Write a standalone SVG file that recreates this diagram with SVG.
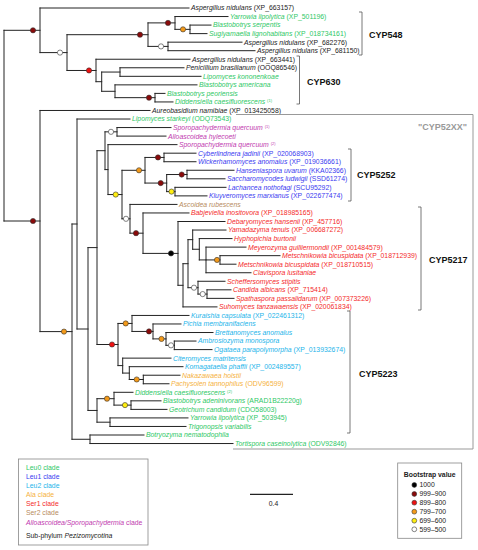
<svg xmlns="http://www.w3.org/2000/svg" width="478" height="550" viewBox="0 0 478 550">
<style>
text{font-family:"Liberation Sans",Arial,Helvetica,sans-serif;font-size:6.85px}
.i{font-style:italic}
.k{fill:#222}
.g{fill:#2ec866}
.b{fill:#3a3af0}
.c{fill:#1cb4ea}
.o{fill:#f5b13d}
.r{fill:#f42a2a}
.n{fill:#b78b5e}
.m{fill:#c13aaf}
.sup{font-size:4px}
.lab{font-size:9px;font-weight:bold;fill:#111}
.tree{fill:none;stroke:#222;stroke-width:1;stroke-linecap:square}
.br{fill:none;stroke:#555;stroke-width:0.8}
.bs{stroke:#333;stroke-width:0.6}
.dr{fill:#8b0a0a}.rd{fill:#ee1111}.or{fill:#f39a1a}.ye{fill:#ffee11}.wh{fill:#fff}.bk{fill:#000}
</style>
<rect width="478" height="550" fill="#fff"/>
<g id="connectors">
<path class="tree" d="M4,30.3V221M4,30.3H40M40,8V52.6M40,8H189M40,52.6H67M67,34.7V70.47M67,34.7H148M148,22.9V46.4M148,22.9H175M175,16.54V29.35M175,16.54H228M175,29.35H190M190,25.08V33.62M190,25.08H211M190,33.62H207M148,46.4H168M168,42.16V50.7M168,42.16H242M168,50.7H255M67,70.47H96M96,59.24V81.7M96,59.24H190M96,81.7H101.7M101.7,72.05V91.3M101.7,72.05H120M120,67.78V76.32M120,67.78H184M120,76.32H201M101.7,91.3H115M115,84.86V97.67M115,84.86H197M115,97.67H155M155,93.4V101.94M155,93.4H165M155,101.94H173
M4,221H40M40,110.48V331.6M40,110.48H150M40,331.6H72M72,224V439.27M72,224H77M77,119.02V329M77,119.02H130M77,329H88M88,247.6V410.45M88,247.6H97M97,150.7V344.5M97,150.7H105M105,131.83V169.6M105,131.83H117M117,127.56V136.1M117,127.56H171M117,136.1H166M105,169.6H108M108,144.64V194.55M108,144.64H177M108,194.55H122M122,170.3V218.8M122,170.3H145M145,157.45V183.07M145,157.45H164M164,153.18V161.72M164,153.18H196M164,161.72H196M145,183.07H166.7M166.7,174.53V191.61M166.7,174.53H187M187,170.26V178.8M187,170.26H234M187,178.8H225M166.7,191.61H175M175,187.34V195.88M175,187.34H226M175,195.88H207
M122,218.8H130M130,204.42V233.18M130,204.42H177M130,233.18H143M143,212.96V253.4M143,212.96H189M143,253.4H178M178,221.5V285.3M178,221.5H225M178,285.3H183M183,263.7V306.9M183,306.9H217M183,263.7H188M188,239.65V287.7M188,239.65H192.7M192.7,230.04V249.26M192.7,230.04H226M192.7,249.26H199.3M199.3,238.58V259.93M199.3,238.58H232M199.3,259.93H206M206,247.12V272.74M206,247.12H246M206,259.93H220M220,255.66V264.2M220,255.66H280M220,264.2H236M206,272.74H251M188,287.7H198M198,281.28V294.09M198,281.28H225M198,294.09H207M207,289.82V298.36M207,289.82H231M207,298.36H234
M97,344.5H118M118,323.44V365.6M118,323.44H132M132,315.44V331.44M132,315.44H189M132,331.44H153M153,323.98V338.9M153,323.98H181M153,338.9H166M166,332.52V345.33M166,332.52H213M166,345.33H174.3M174.3,341.06V349.6M174.3,341.06H196M174.3,349.6H212M118,365.6H122.7M122.7,358.14V373.09M122.7,358.14H171M122.7,373.09H129.3M129.3,366.68V379.49M129.3,366.68H183M129.3,379.49H143.3M143.3,375.22V383.76M143.3,375.22H180M143.3,383.76H169
M88,410.45H97M97,398.7V422.19M97,398.7H114M114,392.3V405.11M114,392.3H133M114,405.11H131M131,400.84V409.38M131,400.84H161M131,409.38H167M97,422.19H110M110,417.92V426.46M110,417.92H188M110,426.46H186M72,439.27H90M90,435V443.54M90,435H144M90,443.54H233"/>
</g>
<g id="bootstrap-nodes" class="bs">
<circle class="dr" cx="33" cy="30.3" r="2.6"/><circle class="wh" cx="60" cy="52.6" r="2.6"/><circle class="dr" cx="140" cy="34.7" r="2.6"/><circle class="dr" cx="168" cy="22.9" r="2.6"/><circle class="or" cx="183" cy="29.35" r="2.6"/><circle class="wh" cx="161" cy="46.4" r="2.6"/><circle class="rd" cx="89" cy="70.47" r="2.6"/><circle class="dr" cx="149" cy="97.67" r="2.6"/>
<circle class="dr" cx="33" cy="221" r="2.6"/><circle class="or" cx="64" cy="331.6" r="2.6"/><circle class="wh" cx="111" cy="131.83" r="2.6"/><circle class="ye" cx="115.7" cy="194.55" r="2.6"/><circle class="or" cx="139" cy="170.3" r="2.6"/><circle class="dr" cx="158" cy="157.45" r="2.6"/><circle class="dr" cx="160.7" cy="183.07" r="2.6"/><circle class="dr" cx="181.7" cy="174.53" r="2.6"/><circle class="ye" cx="171.5" cy="191.61" r="2.6"/><circle class="wh" cx="126" cy="218.8" r="2.6"/><circle class="dr" cx="136" cy="233.18" r="2.6"/><circle class="bk" cx="171" cy="253.4" r="2.6"/><circle class="or" cx="217" cy="259.93" r="2.6"/><circle class="wh" cx="194" cy="287.7" r="2.6"/><circle class="wh" cx="202.7" cy="294.09" r="2.6"/>
<circle class="rd" cx="112" cy="344.5" r="2.6"/><circle class="or" cx="125.7" cy="323.44" r="2.6"/><circle class="dr" cx="149" cy="331.44" r="2.6"/><circle class="or" cx="161.5" cy="338.9" r="2.6"/><circle class="wh" cx="171" cy="345.33" r="2.6"/><circle class="or" cx="136.7" cy="379.49" r="2.6"/><circle class="or" cx="107" cy="398.7" r="2.6"/><circle class="ye" cx="125" cy="405.11" r="2.6"/>
</g>
<g id="leaves">
<g id="leaf1"><text x="191" y="10.4" class="k"><tspan class="i">Aspergillus nidulans</tspan> (XP_663157)</text></g>
<g id="leaf2"><text x="230" y="18.94" class="g"><tspan class="i">Yarrowia lipolytica</tspan> (XP_501196)</text></g>
<g id="leaf3"><text x="213" y="27.48" class="g i">Blastobotrys serpentis</text></g>
<g id="leaf4"><text x="209" y="36.02" class="g"><tspan class="i">Sugiyamaella lignohabitans</tspan> (XP_018734161)</text></g>
<g id="leaf5"><text x="244" y="44.56" class="k"><tspan class="i">Aspergillus nidulans</tspan> (XP_682276)</text></g>
<g id="leaf6"><text x="257" y="53.1" class="k"><tspan class="i">Aspergillus nidulans</tspan> (XP_681150)</text></g>
<g id="leaf7"><text x="192" y="61.64" class="k"><tspan class="i">Aspergillus nidulans</tspan> (XP_663441)</text></g>
<g id="leaf8"><text x="186" y="70.18" class="k"><tspan class="i">Penicillium brasilianum</tspan> (OOQ86546)</text></g>
<g id="leaf9"><text x="203" y="78.72" class="g i">Lipomyces kononenkoae</text></g>
<g id="leaf10"><text x="199" y="87.26" class="g i">Blastobotrys americana</text></g>
<g id="leaf11"><text x="167" y="95.8" class="g i">Blastobotrys peoriensis</text></g>
<g id="leaf12"><text x="175" y="104.34" class="g"><tspan class="i">Diddensiella caesifluorescens</tspan> <tspan class="sup" dy="-2">(1)</tspan></text></g>
<g id="leaf13"><text x="152" y="112.88" class="k"><tspan class="i">Aureobasidium namibiae</tspan> (XP_013425058)</text></g>
<g id="leaf14"><text x="132" y="121.42" class="g"><tspan class="i">Lipomyces starkeyi</tspan> (ODQ73543)</text></g>
<g id="leaf15"><text x="173" y="129.96" class="m"><tspan class="i">Sporopachydermia quercuum</tspan> <tspan class="sup" dy="-2">(1)</tspan></text></g>
<g id="leaf16"><text x="168" y="138.5" class="m i">Alloascoidea hylecoeti</text></g>
<g id="leaf17"><text x="179" y="147.04" class="m"><tspan class="i">Sporopachydermia quercuum</tspan> <tspan class="sup" dy="-2">(2)</tspan></text></g>
<g id="leaf18"><text x="198" y="155.58" class="b"><tspan class="i">Cyberlindnera jadinii</tspan> (XP_020068903)</text></g>
<g id="leaf19"><text x="198" y="164.12" class="b"><tspan class="i">Wickerhamomyces anomalus</tspan> (XP_019036661)</text></g>
<g id="leaf20"><text x="236" y="172.66" class="b"><tspan class="i">Hanseniaspora uvarum</tspan> (KKA02366)</text></g>
<g id="leaf21"><text x="227" y="181.2" class="b"><tspan class="i">Saccharomycodes ludwigii</tspan> (SSD61274)</text></g>
<g id="leaf22"><text x="228" y="189.74" class="b"><tspan class="i">Lachancea nothofagi</tspan> (SCU95292)</text></g>
<g id="leaf23"><text x="209" y="198.28" class="b"><tspan class="i">Kluyveromyces marxianus</tspan> (XP_022677474)</text></g>
<g id="leaf24"><text x="179" y="206.82" class="n i">Ascoidea rubescens</text></g>
<g id="leaf25"><text x="191" y="215.36" class="r"><tspan class="i">Babjeviella inositovora</tspan> (XP_018985165)</text></g>
<g id="leaf26"><text x="227" y="223.9" class="r"><tspan class="i">Debaryomyces hansenii</tspan> (XP_457716)</text></g>
<g id="leaf27"><text x="228" y="232.44" class="r"><tspan class="i">Yamadazyma tenuis</tspan> (XP_006687272)</text></g>
<g id="leaf28"><text x="234" y="240.98" class="r i">Hyphopichia burtonii</text></g>
<g id="leaf29"><text x="248" y="249.52" class="r"><tspan class="i">Meyerozyma guilliermondii</tspan> (XP_001484579)</text></g>
<g id="leaf30"><text x="282" y="258.06" class="r"><tspan class="i">Metschnikowia bicuspidata</tspan> (XP_018712939)</text></g>
<g id="leaf31"><text x="238" y="266.6" class="r"><tspan class="i">Metschnikowia bicuspidata</tspan> (XP_018710515)</text></g>
<g id="leaf32"><text x="253" y="275.14" class="r i">Clavispora lusitaniae</text></g>
<g id="leaf33"><text x="227" y="283.68" class="r i">Scheffersomyces stipitis</text></g>
<g id="leaf34"><text x="233" y="292.22" class="r"><tspan class="i">Candida albicans</tspan> (XP_715414)</text></g>
<g id="leaf35"><text x="236" y="300.76" class="r"><tspan class="i">Spathaspora passalidarum</tspan> (XP_007373226)</text></g>
<g id="leaf36"><text x="219" y="309.3" class="r"><tspan class="i">Suhomyces tanzawaensis</tspan> (XP_020061834)</text></g>
<g id="leaf37"><text x="191" y="317.84" class="c"><tspan class="i">Kuraishia capsulata</tspan> (XP_022461312)</text></g>
<g id="leaf38"><text x="183" y="326.38" class="c i">Pichia membranifaciens</text></g>
<g id="leaf39"><text x="215" y="334.92" class="c i">Brettanomyces anomalus</text></g>
<g id="leaf40"><text x="198" y="343.46" class="c i">Ambrosiozyma monospora</text></g>
<g id="leaf41"><text x="214" y="352" class="c"><tspan class="i">Ogataea parapolymorpha</tspan> (XP_013932674)</text></g>
<g id="leaf42"><text x="173" y="360.54" class="c i">Citeromyces matritensis</text></g>
<g id="leaf43"><text x="185" y="369.08" class="c"><tspan class="i">Komagataella phaffii</tspan> (XP_002489557)</text></g>
<g id="leaf44"><text x="182" y="377.62" class="o i">Nakazawaea holstii</text></g>
<g id="leaf45"><text x="171" y="386.16" class="o"><tspan class="i">Pachysolen tannophilus</tspan> (ODV96599)</text></g>
<g id="leaf46"><text x="135" y="394.7" class="g"><tspan class="i">Diddensiella caesifluorescens</tspan> <tspan class="sup" dy="-2">(2)</tspan></text></g>
<g id="leaf47"><text x="163" y="403.24" class="g"><tspan class="i">Blastobotrys adeninivorans</tspan> (ARAD1B22220g)</text></g>
<g id="leaf48"><text x="169" y="411.78" class="g"><tspan class="i">Geotrichum candidum</tspan> (CDO58003)</text></g>
<g id="leaf49"><text x="190" y="420.32" class="g"><tspan class="i">Yarrowia lipolytica</tspan> (XP_503945)</text></g>
<g id="leaf50"><text x="188" y="428.86" class="g i">Trigonopsis variabilis</text></g>
<g id="leaf51"><text x="146" y="437.4" class="g i">Botryozyma nematodophila</text></g>
<g id="leaf52"><text x="235" y="445.94" class="g"><tspan class="i">Tortispora caseinolytica</tspan> (ODV92846)</text></g>
</g>
<g id="clades">
<path d="M236,114.5H473V449H233" fill="none" stroke="#999" stroke-width="1"/>
<text x="467" y="130" text-anchor="end" style="font-size:9px;font-weight:bold;fill:#999">"CYP52XX"</text>
<path class="br" d="M359,12H362V55H359"/><text class="lab" x="369" y="38.3">CYP548</text>
<path class="br" d="M296.5,56H299.5V104H296.5"/><text class="lab" x="307" y="85">CYP630</text>
<path class="br" d="M348,149H351V201H348"/><text class="lab" x="357" y="178.3">CYP5252</text>
<path class="br" d="M418,207H421V310H418"/><text class="lab" x="429" y="263.3">CYP5217</text>
<path class="br" d="M347,311H350V433H347"/><text class="lab" x="359" y="376.6">CYP5223</text>
</g>
<g id="legend-clades">
<rect x="18.5" y="459" width="129.5" height="86" fill="none" stroke="#888" stroke-width="0.8"/>
<text x="26" y="469.8" class="g">Leu0 clade</text>
<text x="26" y="478.6" class="b">Leu1 clade</text>
<text x="26" y="487.7" class="c">Leu2 clade</text>
<text x="26" y="496.7" class="o">Ala clade</text>
<text x="26" y="506.1" class="r">Ser1 clade</text>
<text x="26" y="515.1" class="n">Ser2 clade</text>
<text x="26" y="524.7" class="m"><tspan class="i">Alloascoidea/Sporopachydermia</tspan> clade</text>
<text x="26" y="537.7" class="k">Sub-phylum <tspan class="i">Pezizomycotina</tspan></text>
</g>
<g id="scale-bar">
<path d="M250,494.3H293" stroke="#222" stroke-width="1.2"/>
<text x="273.5" y="505.6" text-anchor="middle" class="k">0.4</text>
</g>
<g id="legend-bootstrap">
<rect x="397.7" y="463" width="64" height="75.3" fill="none" stroke="#888" stroke-width="0.8"/>
<text x="429.7" y="476.7" text-anchor="middle" style="font-weight:bold" class="k">Bootstrap value</text>
<g class="bs">
<circle class="bk" cx="414.3" cy="485" r="2.4"/><circle class="dr" cx="414.3" cy="494" r="2.4"/><circle class="rd" cx="414.3" cy="502.7" r="2.4"/><circle class="or" cx="414.3" cy="511.7" r="2.4"/><circle class="ye" cx="414.3" cy="520.7" r="2.4"/><circle class="wh" cx="414.3" cy="529.3" r="2.4"/>
</g>
<text x="419.5" y="487.4" class="k">1000</text>
<text x="419.5" y="496.4" class="k">999–900</text>
<text x="419.5" y="505.1" class="k">899–800</text>
<text x="419.5" y="514.1" class="k">799–700</text>
<text x="419.5" y="523.1" class="k">699–600</text>
<text x="419.5" y="531.7" class="k">599–500</text>
</g>
</svg>
